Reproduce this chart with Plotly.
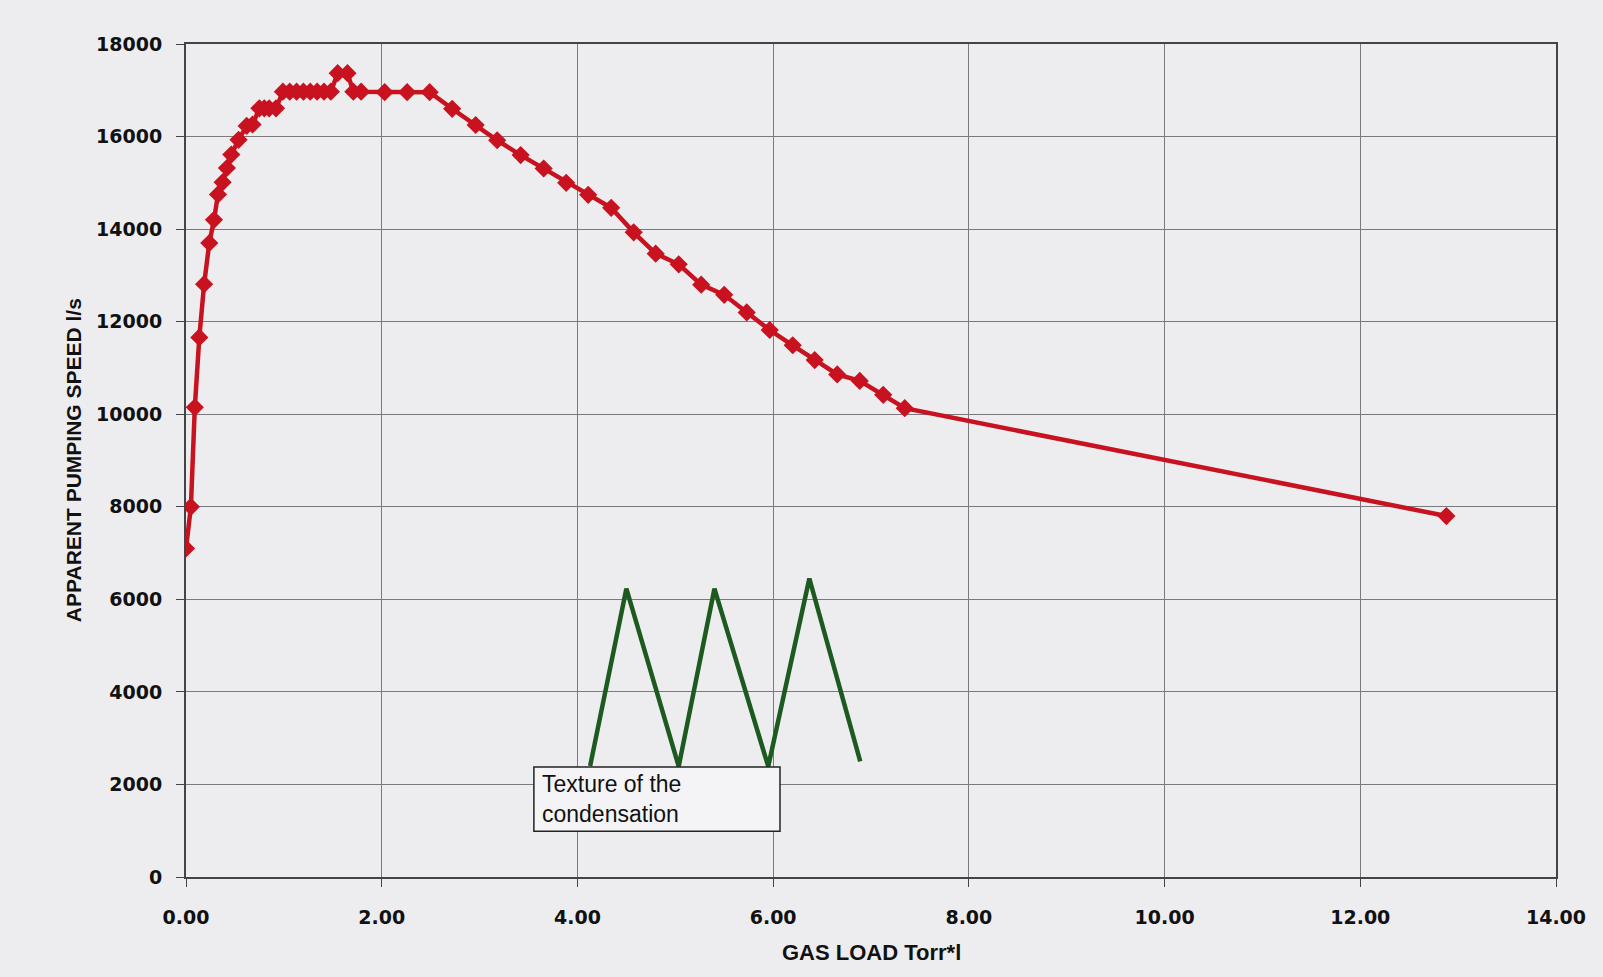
import plotly.graph_objects as go

# Red series: apparent pumping speed vs gas load
gas_load = [0.00, 0.05, 0.09, 0.136, 0.185, 0.238, 0.286, 0.327, 0.374, 0.418,
            0.463, 0.537, 0.62, 0.68, 0.75, 0.80, 0.85, 0.92,
            0.99, 1.06, 1.13, 1.20, 1.27, 1.34, 1.41, 1.48,
            1.55, 1.65, 1.71, 1.79, 2.03, 2.26, 2.49, 2.72, 2.96, 3.18,
            3.42, 3.655, 3.885, 4.11, 4.345, 4.575, 4.80, 5.035, 5.265, 5.50,
            5.73, 5.965, 6.20, 6.425, 6.655, 6.885, 7.125, 7.345, 12.88]
pumping_speed = [7100, 8000, 10150, 11660, 12810, 13700, 14200, 14750, 15010, 15320,
                 15610, 15930, 16230, 16260, 16610, 16610, 16610, 16610,
                 16970, 16970, 16970, 16970, 16970, 16970, 16970, 16970,
                 17370, 17370, 16970, 16970, 16960, 16960, 16960, 16600, 16250, 15920,
                 15600, 15310, 15000, 14740, 14460, 13930, 13470, 13240, 12800, 12580,
                 12200, 11820, 11490, 11170, 10860, 10720, 10420, 10130, 7800]

# Green zig-zag drawing: "texture of the condensation"
texture_x = [4.13, 4.50, 5.035, 5.40, 5.95, 6.37, 6.89]
texture_y = [2400, 6230, 2390, 6230, 2390, 6450, 2500]

x_ticks = [0, 2, 4, 6, 8, 10, 12, 14]
y_ticks = [0, 2000, 4000, 6000, 8000, 10000, 12000, 14000, 16000, 18000]

RED = "#c8121f"
GREEN = "#1d5a1f"
GRID = "#7a7a7e"
BG = "#ededef"
TICKFONT = dict(family="DejaVu Sans", size=19, color="#111111", weight="bold")
TITLEFONT = "Liberation Sans Narrow, Arial Narrow, Liberation Sans"

fig = go.Figure()
fig.add_trace(go.Scatter(
    x=texture_x, y=texture_y, mode="lines",
    line=dict(color=GREEN, width=4.5), hoverinfo="skip", showlegend=False))
fig.add_trace(go.Scatter(
    x=gas_load, y=pumping_speed, mode="lines+markers",
    line=dict(color=RED, width=4.5),
    marker=dict(symbol="diamond", size=14, color=RED),
    showlegend=False))

fig.add_shape(type="rect", xref="x", yref="y", x0=3.555, x1=6.07, y0=988, y1=2375,
              line=dict(color="#222222", width=1.5), fillcolor="#f4f4f6", layer="above")
fig.add_annotation(xref="x", yref="y", x=3.555, y=1681, xanchor="left", yanchor="middle",
                   xshift=6, align="left", showarrow=False,
                   text="Texture of the<br>condensation",
                   font=dict(family="Liberation Sans, Arial", size=23, color="#111111"))

fig.add_annotation(xref="paper", yref="paper", x=-0.082, y=0.5, textangle=-90,
                   showarrow=False, xanchor="center", yanchor="middle",
                   text="<b>APPARENT PUMPING SPEED l/s</b>",
                   font=dict(family=TITLEFONT, size=21, color="#111111"))
fig.add_annotation(xref="paper", yref="paper", x=0.5, y=-0.0904,
                   showarrow=False, xanchor="center", yanchor="middle",
                   text="<b>GAS LOAD Torr*l</b>",
                   font=dict(family=TITLEFONT, size=22, color="#111111"))

fig.update_layout(
    width=1603, height=977,
    margin=dict(l=186, r=47, t=44, b=100),
    paper_bgcolor=BG, plot_bgcolor=BG,
    xaxis=dict(range=[0, 14], tickvals=x_ticks, tickformat=".2f",
               showgrid=True, gridcolor=GRID, gridwidth=1.3,
               showline=True, linecolor="#444448", linewidth=2, mirror=True,
               ticks="outside", ticklen=8, tickcolor="#444448",
               tickfont=TICKFONT, ticklabelstandoff=14, zeroline=False),
    yaxis=dict(range=[0, 18000], tickvals=y_ticks, tickformat="d",
               showgrid=True, gridcolor=GRID, gridwidth=1.3,
               showline=True, linecolor="#444448", linewidth=2, mirror=True,
               ticks="outside", ticklen=8, tickcolor="#444448",
               tickfont=TICKFONT, ticklabelstandoff=10, zeroline=False),
)

fig.write_html("out.html", config={"displayModeBar": False},
               post_script="document.body.style.margin='0';document.body.style.background='%s';" % BG)
